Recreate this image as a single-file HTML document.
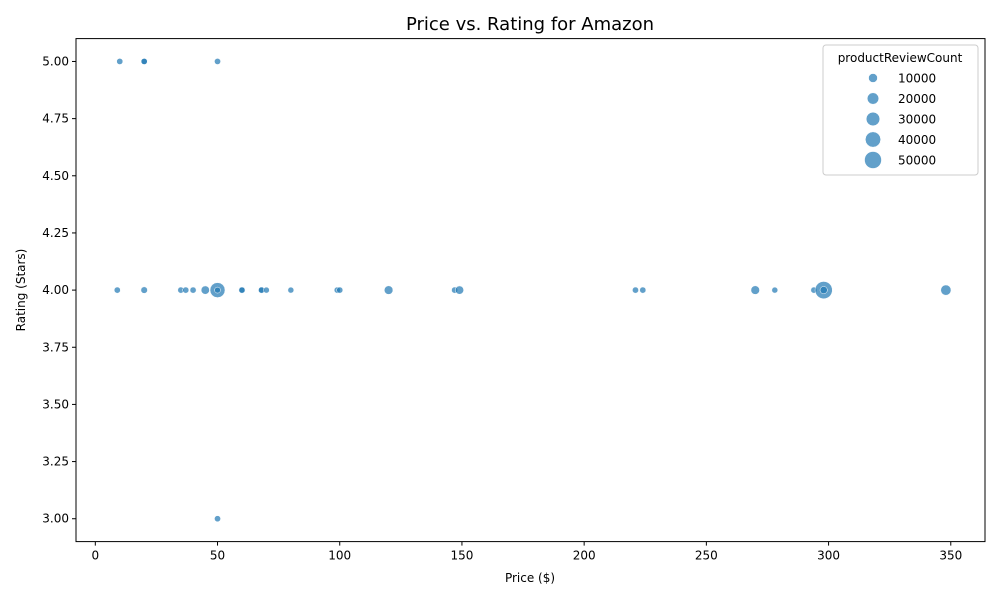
<!DOCTYPE html>
<html><head><meta charset="utf-8"><style>
body{margin:0;background:#fff;font-family:"Liberation Sans","DejaVu Sans",sans-serif}
</style></head><body>
<svg id="chart" width="1000" height="600" xmlns="http://www.w3.org/2000/svg" font-family="DejaVu Sans, Liberation Sans, sans-serif">
<text x="530" y="30" text-anchor="middle" font-size="18" fill="#000">Price vs. Rating for Amazon</text>
<g id="plot"></g>
<rect x="76" y="38.6" width="909" height="503" fill="none" stroke="#000" stroke-width="1"/>
<g id="xt"></g>
<g id="yt"></g>
<text x="530" y="582" text-anchor="middle" font-size="12">Price ($)</text>
<text transform="translate(25,290) rotate(-90)" text-anchor="middle" font-size="12">Rating (Stars)</text>
<g>
<rect x="823" y="45" width="155" height="130" rx="3" fill="#fff" fill-opacity="0.8" stroke="#ccc"/>
<text x="900" y="62" text-anchor="middle" font-size="12">productReviewCount</text>
<g id="leg"></g>
</g>
</svg>
<script>
const prices = [10,20,20,50, 9,20,35,37,40,45,50,50,60,60,68,68,70,80,99,100,120,147,149,221,224,270,278,294,298,298,348, 50];
const ratings = [5,5,5,5, 4,4,4,4,4,4,4,4,4,4,4,4,4,4,4,4,4,4,4,4,4,4,4,4,4,4,4, 3];
const reviewCounts = [2000,2000,2000,2000, 2000,3000,2000,2000,2000,8000,38000,1500,2000,2000,2000,2000,1500,1500,2000,2000,9000,2000,8000,2000,2000,9000,1500,2000,52000,5000,15000, 2000];
const xTicks = [0,50,100,150,200,250,300,350];
const yTicks = [3.00,3.25,3.50,3.75,4.00,4.25,4.50,4.75,5.00];
const legendCounts = [10000,20000,30000,40000,50000];

const X0=76,X1=985,Y0=38.6,Y1=541.6,xmin=-7.9,xmax=364.0,ymin=2.9,ymax=5.1;
const sx=v=>X0+(v-xmin)/(xmax-xmin)*(X1-X0);
const sy=v=>Y1-(v-ymin)/(ymax-ymin)*(Y1-Y0);
const rr=c=>Math.sqrt(7+0.0013*c);
const NS="http://www.w3.org/2000/svg";
const mk=(t,a,p)=>{const e=document.createElementNS(NS,t);for(const k in a)e.setAttribute(k,a[k]);p.appendChild(e);return e;};
const plot=document.getElementById('plot');
prices.forEach((p,i)=>{
  const c=mk('circle',{cx:sx(p),cy:sy(ratings[i]),r:rr(reviewCounts[i]),fill:'#1f77b4','fill-opacity':0.7,stroke:'#fff','stroke-width':0.5},plot);
  
  
});
const xt=document.getElementById('xt');
xTicks.forEach(v=>{
  const l=mk('line',{x1:sx(v),x2:sx(v),y1:Y1,y2:Y1+4,stroke:'#000'},xt);
  
  
  const t=mk('text',{x:sx(v),y:Y1+18,'text-anchor':'middle','font-size':12},xt);
  t.textContent=v;
  
  
});
const yt=document.getElementById('yt');
yTicks.forEach(v=>{
  const l=mk('line',{x1:X0-4,x2:X0,y1:sy(v),y2:sy(v),stroke:'#000'},yt);
  
  
  const t=mk('text',{x:X0-7,y:sy(v)+4,'text-anchor':'end','font-size':12},yt);
  t.textContent=v.toFixed(2);
  
  
});
const leg=document.getElementById('leg');
legendCounts.forEach((c,i)=>{
  const y=78+i*20.5;
  const m=mk('circle',{cx:873,cy:y,r:rr(c),fill:'#1f77b4','fill-opacity':0.7,stroke:'#fff','stroke-width':0.5},leg);
  
  
  const t=mk('text',{x:898,y:y+4.5,'font-size':12},leg);
  t.textContent=c;
  
  
});
</script>
</body></html>
